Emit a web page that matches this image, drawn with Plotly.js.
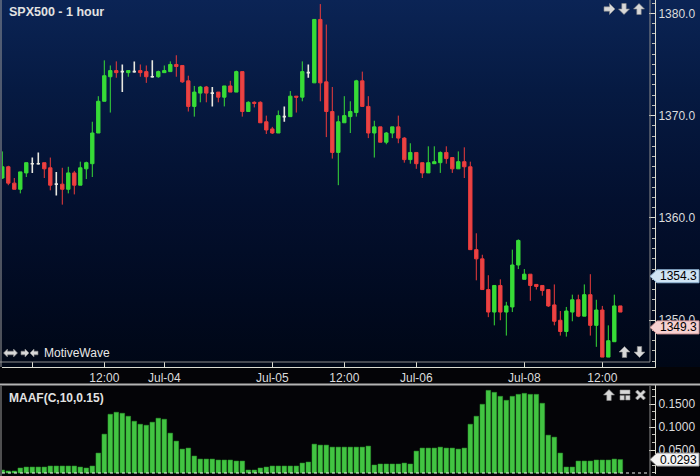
<!DOCTYPE html>
<html><head><meta charset="utf-8">
<script src="https://cdn.plot.ly/plotly-3.0.1.min.js"></script>
<style>
html,body{margin:0;padding:0;background:#030307;}
#chart{width:700px;height:476px;background:linear-gradient(to bottom,#0b2455 0px,#061a42 90px,#03102f 200px,#010a20 300px,#000716 367px,#040407 367px,#040407 476px);}
</style></head><body><div id="chart"></div>
<script>
// ---- data ----
const openP = [1363.9,1365.0,1363.4,1362.8,1364.4,1365.3,1365.3,1365.4,1364.9,1363.3,
1363.3,1362.8,1364.4,1363.2,1364.8,1365.3,1368.3,1371.4,1373.8,1374.4,
1374.3,1374.2,1374.3,1374.4,1374.3,1373.8,1373.8,1374.2,1374.3,1375.0,
1374.9,1373.4,1370.9,1372.2,1372.8,1372.2,1372.3,1371.8,1372.9,1372.3,
1374.3,1370.4,1371.3,1371.3,1369.4,1368.7,1368.3,1369.9,1369.9,1371.9,
1371.8,1374.2,1373.2,1379.4,1373.3,1370.4,1366.4,1369.3,1369.9,1370.3,
1373.4,1370.9,1368.3,1368.9,1367.4,1368.3,1368.9,1367.8,1365.7,1366.4,
1365.4,1364.4,1365.3,1365.4,1366.4,1365.9,1364.8,1365.5,1365.0,1356.9,
1356.0,1353.0,1350.8,1353.4,1350.8,1351.3,1355.4,1354.0,1354.5,1353.5,
1353.4,1353.0,1351.5,1350.0,1348.9,1350.8,1352.0,1350.4,1352.5,1349.5,
1351.0,1346.4,1347.9,1351.4];
const highP = [1366.5,1365.1,1363.9,1364.5,1365.4,1365.9,1366.4,1365.4,1365.9,1364.5,
1364.9,1365.0,1364.6,1365.5,1365.5,1369.4,1371.9,1375.4,1374.9,1375.3,
1375.0,1374.4,1375.3,1375.0,1374.9,1375.4,1374.4,1374.9,1375.3,1375.9,
1374.9,1373.9,1372.9,1372.9,1372.9,1372.8,1372.3,1372.9,1373.4,1374.4,
1374.3,1371.4,1371.4,1371.4,1370.0,1368.9,1370.5,1370.9,1372.4,1371.9,
1375.3,1375.0,1379.4,1380.9,1378.9,1372.8,1370.0,1371.9,1371.4,1373.5,
1374.3,1371.9,1369.5,1368.9,1368.4,1368.9,1370.0,1367.9,1367.3,1366.4,
1365.4,1367.0,1367.0,1366.5,1367.0,1365.9,1366.5,1366.9,1365.5,1358.5,
1356.4,1354.4,1353.4,1354.0,1351.8,1356.9,1357.9,1355.0,1354.5,1353.5,
1353.4,1353.0,1353.5,1350.9,1351.3,1352.5,1352.5,1353.5,1354.5,1352.0,
1351.4,1349.5,1352.5,1351.4];
const lowP = [1363.8,1363.2,1362.8,1362.4,1364.0,1364.4,1365.2,1363.9,1362.7,1362.2,
1361.3,1362.4,1362.3,1363.2,1363.8,1364.0,1368.3,1371.4,1370.3,1373.7,
1372.3,1373.8,1374.2,1373.8,1373.2,1373.7,1373.7,1374.2,1374.3,1373.8,
1373.2,1370.4,1369.9,1371.3,1371.3,1370.9,1371.3,1370.9,1372.3,1372.3,
1369.9,1370.4,1370.8,1369.3,1368.2,1368.2,1368.3,1369.4,1369.9,1370.3,
1371.4,1373.7,1373.2,1371.4,1367.9,1365.8,1363.2,1369.3,1368.3,1369.9,
1370.9,1367.8,1365.9,1367.4,1367.2,1367.8,1367.3,1365.4,1365.3,1364.8,
1363.9,1364.4,1365.3,1364.4,1365.3,1364.4,1364.8,1363.9,1356.9,1353.9,
1353.0,1350.3,1349.5,1350.0,1348.5,1350.8,1355.0,1354.0,1351.9,1353.0,
1352.4,1351.3,1349.5,1348.5,1348.4,1349.9,1350.3,1350.4,1348.5,1347.4,
1346.4,1346.4,1347.9,1350.8];
const closeP = [1365.0,1363.4,1362.8,1364.5,1365.4,1365.3,1365.3,1364.8,1363.2,1363.3,
1362.8,1364.4,1363.2,1364.9,1365.4,1368.3,1371.4,1373.9,1374.4,1374.2,
1374.3,1374.4,1374.3,1374.2,1373.8,1373.8,1374.3,1374.4,1375.0,1374.8,
1373.3,1370.9,1372.3,1372.8,1372.2,1372.2,1371.8,1372.9,1372.3,1374.3,
1370.4,1371.3,1371.2,1369.3,1368.6,1368.3,1370.0,1369.9,1371.9,1371.8,
1374.3,1374.2,1379.4,1373.2,1370.4,1366.4,1369.4,1370.0,1370.4,1373.4,
1370.9,1368.3,1368.9,1367.4,1368.3,1368.9,1367.8,1365.7,1366.4,1365.3,
1364.4,1365.4,1365.5,1366.4,1365.8,1364.8,1365.5,1365.0,1356.9,1356.0,
1353.0,1350.8,1353.4,1350.8,1351.4,1355.4,1357.8,1354.5,1353.4,1353.3,
1352.9,1351.4,1349.9,1348.9,1350.9,1352.0,1350.4,1352.5,1349.5,1351.0,
1346.4,1348.0,1351.4,1350.8];
const maaf = [0.0065,0.0043,0.0043,0.0109,0.0130,0.0130,0.0130,0.0130,0.0152,0.0152,
0.0152,0.0152,0.0152,0.0130,0.0109,0.0152,0.0435,0.0848,0.1283,0.1326,
0.1304,0.1239,0.1130,0.1065,0.1043,0.1109,0.1196,0.1174,0.0870,0.0696,
0.0522,0.0544,0.0370,0.0304,0.0304,0.0304,0.0283,0.0283,0.0283,0.0261,
0.0261,0.0065,0.0065,0.0109,0.0130,0.0152,0.0152,0.0152,0.0152,0.0152,
0.0217,0.0239,0.0630,0.0609,0.0609,0.0565,0.0565,0.0565,0.0565,0.0565,
0.0565,0.0587,0.0174,0.0196,0.0196,0.0196,0.0196,0.0217,0.0196,0.0478,
0.0544,0.0544,0.0544,0.0565,0.0544,0.0544,0.0522,0.0544,0.1065,0.1239,
0.1500,0.1804,0.1761,0.1674,0.1587,0.1674,0.1717,0.1739,0.1717,0.1717,
0.1522,0.0826,0.0783,0.0435,0.0130,0.0130,0.0261,0.0261,0.0261,0.0283,
0.0283,0.0283,0.0304,0.0293];
const tickBars = [5, 17, 27, 45, 57, 69, 87, 100];
const tickLabels = ['', '12:00', 'Jul-04', 'Jul-05', '12:00', 'Jul-06', 'Jul-08', '12:00'];
const priceTags = [1354.3, 1349.3];
const maafTag = [0.0293];
const chartTitle = 'SPX500 - 1 hour';
const studyTitle = 'MAAF(C,10,0.15)';
const brand = 'MotiveWave';

// ---- build ----
const FONT = 'Liberation Sans, Arial, sans-serif';
const W = 700, H = 476, ML = 2, MR = 45;
const PW = W - ML - MR;
const PX = px => (px - ML) / PW;
const PY = py => 1 - py / H;

const bar = openP.map((_, i) => i);
const isDoji = i => openP[i] === closeP[i];
const norm = bar.filter(i => !isDoji(i));
const doji = bar.filter(i => isDoji(i));
const pick = (arr, ids) => ids.map(i => arr[i]);

const GREEN = '#37dc37', RED = '#ee3b3b';

const traces = [
  {type:'candlestick', x: pick(bar, norm), open: pick(openP, norm), high: pick(highP, norm),
   low: pick(lowP, norm), close: pick(closeP, norm), xaxis:'x', yaxis:'y', whiskerwidth:0,
   increasing:{line:{color:GREEN,width:1}, fillcolor:GREEN},
   decreasing:{line:{color:RED,width:1}, fillcolor:'#e84545'}, hoverinfo:'skip', showlegend:false},
  {type:'candlestick', x: pick(bar, doji), open: pick(openP, doji), high: pick(highP, doji),
   low: pick(lowP, doji), close: pick(closeP, doji), xaxis:'x', yaxis:'y', whiskerwidth:0,
   increasing:{line:{color:'#e8e8e0',width:1.6}, fillcolor:'#e8e8e0'},
   decreasing:{line:{color:'#e8e8e0',width:1.6}, fillcolor:'#e8e8e0'}, hoverinfo:'skip', showlegend:false},
  {type:'bar', x: bar, y: maaf, xaxis:'x2', yaxis:'y2',
   marker:{color:'#42c442', line:{color:'#2e9a2e', width:0.5}}, hoverinfo:'skip', showlegend:false}
];

const xr = [-0.05, 108.78];
const axisLine = '#dcdcd0';
const frame = '#8c8c8c';

const shapes = [
  {type:'line', xref:'paper', yref:'paper', x0:PX(650), x1:PX(650), y0:PY(0), y1:PY(362), line:{color:frame,width:1}},
  {type:'line', xref:'paper', yref:'paper', x0:PX(0), x1:PX(650), y0:PY(362), y1:PY(362), line:{color:frame,width:1}},
  {type:'line', xref:'paper', yref:'paper', x0:PX(1), x1:PX(1), y0:PY(0), y1:PY(367), line:{color:'#9a9a9a',width:1}},
  {type:'line', xref:'paper', yref:'paper', x0:PX(0), x1:PX(700), y0:PY(384.5), y1:PY(384.5), line:{color:'#b4b4b4',width:2}},
  {type:'line', xref:'paper', yref:'paper', x0:PX(650), x1:PX(650), y0:PY(386), y1:PY(476), line:{color:frame,width:1}},
  {type:'line', xref:'paper', yref:'paper', x0:PX(1), x1:PX(1), y0:PY(386), y1:PY(476), line:{color:'#9a9a9a',width:1}},
  {type:'line', xref:'paper', yref:'y2', x0:0, x1:PX(650), y0:0, y1:0, layer:'above', line:{color:'#f0f0f0',width:1,dash:'3px,3px'}}
];

// toolbar icons drawn as small pixel-sized paths (pixel y grows upward)
const ICON_PATHS = {
  up:    'M 0 5.5 L 5.5 0 L 2.2 0 L 2.2 -5.5 L -2.2 -5.5 L -2.2 0 L -5.5 0 Z',
  down:  'M 0 -5.5 L 5.5 0 L 2.2 0 L 2.2 5.5 L -2.2 5.5 L -2.2 0 L -5.5 0 Z',
  right: 'M 5.5 0 L 0 -5.5 L 0 -2.2 L -5.5 -2.2 L -5.5 2.2 L 0 2.2 L 0 5.5 Z',
  left:  'M -5.5 0 L 0 -5.5 L 0 -2.2 L 5.5 -2.2 L 5.5 2.2 L 0 2.2 L 0 5.5 Z',
  sright:'M 4 0 L 0 -4 L 0 -1.8 L -4 -1.8 L -4 1.8 L 0 1.8 L 0 4 Z',
  sleft: 'M -4 0 L 0 -4 L 0 -1.8 L 4 -1.8 L 4 1.8 L 0 1.8 L 0 4 Z',
  both:  'M -7 0 L -3 -4 L -3 -1.8 L 3 -1.8 L 3 -4 L 7 0 L 3 4 L 3 1.8 L -3 1.8 L -3 4 Z',
  win:   'M -5 5 L 5 5 L 5 1 L -5 1 Z M -5 -0.5 L -0.7 -0.5 L -0.7 -5 L -5 -5 Z M 0.7 -0.5 L 5 -0.5 L 5 -5 L 0.7 -5 Z',
  close: 'M -5 -3 L -3 -5 L 0 -2 L 3 -5 L 5 -3 L 2 0 L 5 3 L 3 5 L 0 2 L -3 5 L -5 3 L -2 0 Z'
};
const iconAt = (name, cx, cy) => shapes.push({type:'path', layer:'above',
  xref:'paper', xsizemode:'pixel', xanchor:PX(cx), yref:'paper', ysizemode:'pixel', yanchor:PY(cy),
  path:ICON_PATHS[name], fillcolor:'#d8d8d8', line:{color:'#8a8a8a', width:0.6}});
iconAt('right', 609.5, 9); iconAt('down', 624, 9); iconAt('up', 639, 9);
iconAt('up', 624.5, 352); iconAt('down', 639.5, 352);
iconAt('up', 609, 395); iconAt('win', 625, 395); iconAt('close', 640.5, 395);
iconAt('both', 10.5, 353); iconAt('sright', 25, 353); iconAt('sleft', 34, 353);

const annotations = [
  {xref:'paper', yref:'paper', x:PX(7), y:PY(12), xanchor:'left', yanchor:'middle', showarrow:false,
   text:'<b>'+chartTitle+'</b>', font:{family:FONT,size:12.5,color:'#e2e2e2'}},
  {xref:'paper', yref:'paper', x:PX(7), y:PY(398), xanchor:'left', yanchor:'middle', showarrow:false,
   text:'<b>'+studyTitle+'</b>', font:{family:FONT,size:12,color:'#e2e2e2'}},
  {xref:'paper', yref:'paper', x:PX(42), y:PY(353), xanchor:'left', yanchor:'middle', showarrow:false,
   text:brand, font:{family:FONT,size:12,color:'#e8e8e8'}}
];
const tagStyles = [{fill:'#cfe4f4', edge:'#8fb4d4'}, {fill:'#f6d0d0', edge:'#d49a9a'}];
priceTags.forEach((v, i) => {
  shapes.push({type:'path', xref:'paper', xsizemode:'pixel', xanchor:1, yref:'y', ysizemode:'pixel', yanchor:v,
    path:'M -5 0 L 2 6.5 L 44 6.5 L 44 -6.5 L 2 -6.5 Z', fillcolor:tagStyles[i].fill, line:{color:tagStyles[i].edge,width:1}, layer:'above'});
  annotations.push({xref:'paper', yref:'y', x:1, xshift:23, y:v, xanchor:'center', yanchor:'middle', showarrow:false,
    text:v.toFixed(1), font:{family:FONT,size:12,color:'#000000'}});
});
maafTag.forEach(v => {
  shapes.push({type:'path', xref:'paper', xsizemode:'pixel', xanchor:1, yref:'y2', ysizemode:'pixel', yanchor:v,
    path:'M -5 0 L 2 6.5 L 44 6.5 L 44 -6.5 L 2 -6.5 Z', fillcolor:'#f4f4f4', line:{color:'#a0a0a0',width:1}, layer:'above'});
  annotations.push({xref:'paper', yref:'y2', x:1, xshift:23, y:v, xanchor:'center', yanchor:'middle', showarrow:false,
    text:v.toFixed(4), font:{family:FONT,size:12,color:'#000000'}});
});

const layout = {
  width:W, height:H, margin:{l:ML, r:MR, t:0, b:0},
  paper_bgcolor:'rgba(0,0,0,0)', plot_bgcolor:'rgba(0,0,0,0)',
  font:{family:FONT, size:12, color:'#dcdcdc'},
  showlegend:false, boxgap:0.2, bargap:0.22, dragmode:false,
  xaxis:{domain:[0,1], anchor:'y', range:xr, rangeslider:{visible:false},
    tickmode:'array', tickvals:tickBars, ticktext:tickLabels, ticks:'inside', ticklen:5, tickcolor:axisLine,
    showline:true, linecolor:axisLine, linewidth:1, showgrid:false, zeroline:false,
    tickfont:{family:FONT,size:12,color:'#dcdcdc'}, fixedrange:true},
  yaxis:{domain:[PY(367),1], anchor:'x', side:'right', range:[1345.43,1381.30],
    dtick:10, tick0:0, tickformat:'.1f', ticks:'inside', ticklen:6, tickcolor:axisLine,
    minor:{dtick:1, ticks:'inside', ticklen:3, tickcolor:'#c0c0b8', showgrid:false},
    showline:true, linecolor:axisLine, linewidth:1, showgrid:false, zeroline:false,
    tickfont:{family:FONT,size:12,color:'#dcdcdc'}, fixedrange:true},
  xaxis2:{domain:[0,1], anchor:'y2', range:xr, visible:false, fixedrange:true},
  yaxis2:{domain:[PY(474),PY(385)], anchor:'x2', side:'right', range:[-0.0022,0.1921],
    tickmode:'array', tickvals:[0.05,0.10,0.15], tickformat:'.4f', ticks:'inside', ticklen:6, tickcolor:axisLine,
    minor:{dtick:0.05/3, tick0:0, ticks:'inside', ticklen:3, tickcolor:'#c0c0b8', showgrid:false},
    showline:true, linecolor:axisLine, linewidth:1, showgrid:false, zeroline:false,
    tickfont:{family:FONT,size:12,color:'#dcdcdc'}, fixedrange:true},
  shapes:shapes, annotations:annotations
};
Plotly.newPlot('chart', traces, layout, {displayModeBar:false, staticPlot:true});
</script></body></html>
